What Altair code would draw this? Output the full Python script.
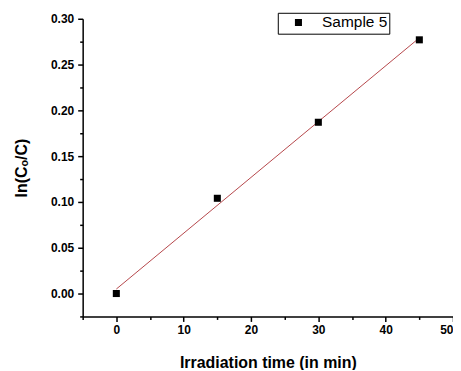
import altair as alt
import pandas as pd

# Data
time_min = [0, 15, 30, 45]
ln_ratio = [0.0, 0.104, 0.187, 0.277]
series = ["Sample 5", "Sample 5", "Sample 5", "Sample 5"]

x_major = [0, 10, 20, 30, 40, 50]
x_minor = [-5, 5, 15, 25, 35, 45]
y_major = [0.0, 0.05, 0.10, 0.15, 0.20, 0.25, 0.30]
y_minor = [-0.025, 0.025, 0.075, 0.125, 0.175, 0.225, 0.275]

df = pd.DataFrame({"t": time_min, "v": ln_ratio, "s": series})

xs = alt.Scale(domain=[-5, 50], nice=False, zero=False)
ys = alt.Scale(domain=[-0.025, 0.30], nice=False, zero=False)

FONT = "Liberation Sans"

minor = alt.Chart(df).mark_point(opacity=0).encode(
    x=alt.X("t:Q", scale=xs, axis=alt.Axis(values=x_minor, labels=False, title=None,
                                           domain=False, tickSize=3, orient="bottom", grid=False)),
    y=alt.Y("v:Q", scale=ys, axis=alt.Axis(values=y_minor, labels=False, title=None,
                                           domain=False, tickSize=3, orient="left", grid=False)),
)

fit = alt.Chart(df).transform_regression("t", "v").mark_line(
    color="#b5474b", strokeWidth=1
).encode(
    x=alt.X("t:Q", scale=xs, axis=None),
    y=alt.Y("v:Q", scale=ys, axis=None),
)

points = alt.Chart(df).mark_square(size=50, opacity=1).encode(
    x=alt.X("t:Q", scale=xs, axis=alt.Axis(values=x_major, title="Irradiation time (in min)",
                                           orient="bottom", tickSize=5, labelPadding=3,
                                           titlePadding=19, grid=False)),
    y=alt.Y("v:Q", scale=ys, axis=alt.Axis(values=y_major, title="ln(Cₒ/C)", format=".2f",
                                           orient="left", tickSize=5, labelPadding=4,
                                           titlePadding=21, grid=False)),
    color=alt.Color("s:N", scale=alt.Scale(domain=["Sample 5"], range=["black"]),
                    legend=alt.Legend(title=None, orient="none", legendX=196, legendY=-6,
                                      strokeColor="black", fillColor="white", padding=2,
                                      cornerRadius=0, symbolType="square", symbolSize=50,
                                      symbolOffset=11, labelFont=FONT, labelFontSize=15.5,
                                      labelOffset=16, symbolStrokeWidth=0)),
)

chart = alt.layer(minor, fit, points).resolve_axis(
    x="independent", y="independent"
).properties(
    width=372, height=299,
    autosize=alt.AutoSizeParams(type="none"),
    padding={"left": 75, "top": 10, "right": 0, "bottom": 53},
).configure_view(stroke=None).configure_axis(
    domainColor="black", domainWidth=1.5, tickColor="black", tickWidth=1.5,
    labelFont=FONT, labelFontWeight="bold", labelFontSize=12, labelColor="black",
    titleFont=FONT, titleFontWeight="bold", titleFontSize=16, titleColor="black",
)

chart.save("out.html", embed_options={"renderer": "svg", "actions": False})
